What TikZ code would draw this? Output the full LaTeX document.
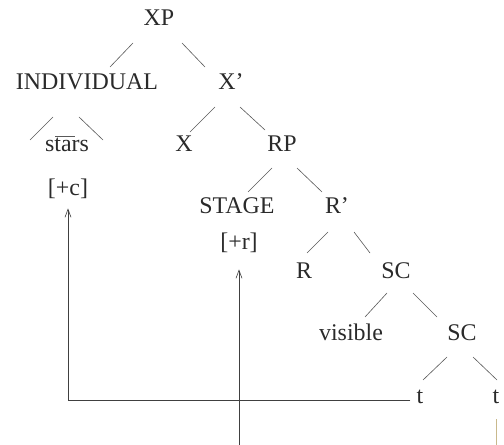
\documentclass[tikz,border=0pt]{standalone}
\usepackage{fontspec}
\setmainfont{Liberation Serif}
\usetikzlibrary{arrows.meta,positioning,calc}
\definecolor{ink}{HTML}{2A2A2A}
\definecolor{tint}{HTML}{C9B98C}

\begin{document}
\begin{tikzpicture}[
		x=1bp, y=-1bp,
		font=\fontsize{24}{28}\selectfont,
		cat/.style={anchor=base, inner sep=2bp, text=ink},
		branch/.style={draw=black!65, line width=0.6bp},
		arr/.style={-{Straight Barb[length=8bp,width=6bp]}, line width=0.6bp, black!75},
	]
	\useasboundingbox (0,0) rectangle (504,445);

	% Nodos del arbol
	\node[cat] (xp)     at (159,26)  {XP};
	\node[cat] (indiv)  at (87,90)   {INDIVIDUAL};
	\node[cat] (xbar)   at (231,90)  {X’};
	\node[cat] (stars)  at (67,152)  {stars};
	\node[cat] (x)      at (184,152) {X};
	\node[cat] (rp)     at (282,152) {RP};
	\node[cat] (plusc)  at (68,196)  {[+c]};
	\node[cat] (stage)  at (237,214) {STAGE};
	\node[cat] (rbar)   at (337,214) {R’};
	\node[cat] (plusr)  at (239,250) {[+r]};
	\node[cat] (r)      at (304,278) {R};
	\node[cat] (sc)     at (396,278) {SC};
	\node[cat] (vis)    at (351,340) {visible};
	\node[cat] (sclow)  at (462,340) {SC};
	\node[cat] (tleft)  at (420,403) {t};
	\node[cat] (tright) at (496,403) {t};

	% Ramas
	\draw[branch] ([shift={(-26,17)}]xp.base)    -- ([shift={(23,-23)}]indiv.base);
	\draw[branch] ([shift={(23,17)}]xp.base)     -- ([shift={(-26,-23)}]xbar.base);
	\draw[branch] ([shift={(-34,27)}]indiv.base) -- ([shift={(-37,-12)}]stars.base);
	\draw[branch] ([shift={(-8,27)}]indiv.base)  -- ([shift={(36,-12)}]stars.base);
	\draw[branch] ([shift={(-12,-16)}]stars.base) -- ([shift={(8,-16)}]stars.base);
	\draw[branch] ([shift={(-16,17)}]xbar.base)  -- ([shift={(6,-20)}]x.base);
	\draw[branch] ([shift={(9,17)}]xbar.base)    -- ([shift={(-17,-22)}]rp.base);
	\draw[branch] ([shift={(-10,16)}]rp.base)    -- ([shift={(11,-22)}]stage.base);
	\draw[branch] ([shift={(15,16)}]rp.base)     -- ([shift={(-15,-22)}]rbar.base);
	\draw[branch] ([shift={(-9,18)}]rbar.base)   -- ([shift={(3,-25)}]r.base);
	\draw[branch] ([shift={(17,18)}]rbar.base)   -- ([shift={(-26,-25)}]sc.base);
	\draw[branch] ([shift={(-9,15)}]sc.base)     -- ([shift={(14,-23)}]vis.base);
	\draw[branch] ([shift={(17,15)}]sc.base)     -- ([shift={(-25,-23)}]sclow.base);
	\draw[branch] ([shift={(-15,17)}]sclow.base) -- ([shift={(3,-23)}]tleft.base);
	\draw[branch] ([shift={(11,17)}]sclow.base)  -- ([shift={(1,-23)}]tright.base);

	% Movimiento
	\coordinate (rfoot) at (239,445);
	\coordinate (tfoot) at (497,445);
	\draw[arr, shorten <=4bp, shorten >=7bp]
	([yshift=3bp]tleft.base west) -| (plusc.south);
	\draw[arr, shorten >=14bp] (rfoot) -- (plusr.south);
	\draw[draw=tint, line width=0.8bp, shorten <=14bp] (tright.south) -- (tright.south |- tfoot);

\end{tikzpicture}
\end{document}
